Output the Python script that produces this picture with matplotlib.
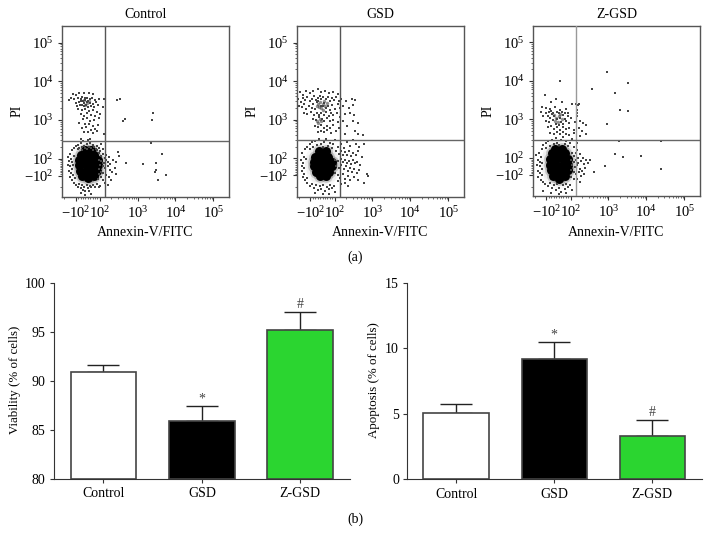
import matplotlib
matplotlib.use('Agg')
import matplotlib.pyplot as plt

plt.rcParams['font.family'] = ['Liberation Serif', 'DejaVu Serif']
plt.rcParams['mathtext.fontset'] = 'custom'
plt.rcParams['mathtext.rm'] = 'Liberation Serif'
plt.rcParams['mathtext.default'] = 'rm'
plt.rcParams['font.size'] = 10

W, H = 711, 545

# flow cytometry events (annexin, PI)
control_core = [(-27, 170), (27, 170), (-55, 127), (0, 127), (55, 127), (-73, 89), (-18, 89), (36, 89), (82, 89),
                (-73, 25), (-18, 25), (36, 25), (82, 25), (-64, -38), (-9, -38), (45, -38), (73, -38),
                (-45, -103), (9, -103), (55, -103), (0, -115)]
control_upper = [(-30, 3300), (-5, 2700), (-25, 2400), (10, 3100)]
control_dots = [(-120, 4800), (-95, 4300), (-70, 5000), (-30, 4900), (10, 5100), (40, 4600), (-135, 3600), (-150, 3300),
                (-110, 3400), (-85, 3700), (-60, 3500), (-45, 3900), (-25, 3600), (-10, 3800), (15, 3400), (35, 3700),
                (60, 3200), (90, 3500), (130, 3400), (-100, 2800), (-75, 2900), (-55, 3100), (-40, 3000), (-30, 2700),
                (-20, 3200), (-5, 2900), (5, 3100), (20, 2800), (45, 2600), (70, 2900), (-90, 2300), (-65, 2400),
                (-50, 2500), (-35, 2300), (-15, 2500), (0, 2200), (25, 2300), (50, 2100), (85, 2400), (120, 2200),
                (-80, 1900), (-45, 1800), (-20, 1900), (10, 1700), (40, 1800), (75, 1600), (-60, 1400), (-30, 1300),
                (-5, 1500), (30, 1350), (60, 1250), (100, 1400), (-40, 1050), (-10, 1100), (20, 950), (55, 1000),
                (90, 1150), (-70, 850), (-25, 800), (10, 780), (45, 700), (85, 750), (-50, 620), (-15, 650), (25, 560),
                (60, 600), (-35, 480), (0, 500), (40, 450), (75, 520), (130, 430),
                (-110, 190), (-95, 210), (-80, 230), (-70, 185), (-60, 250), (-50, 205), (-40, 280), (-30, 215),
                (-20, 190), (-10, 240), (0, 300), (10, 205), (20, 260), (30, 185), (40, 225), (55, 200), (65, 175),
                (80, 215), (95, 190), (110, 240), (125, 175), (-125, 170), (-60, 320), (15, 330), (-85, 175),
                (-45, 170), (-5, 175), (45, 170), (75, 165), (100, 160),
                (-145, 130), (-135, 100), (-150, 70), (-128, 60), (-160, 30), (-140, 10), (-125, -20), (-150, -40),
                (-135, -70), (-120, -90), (-145, -110), (-125, -130), (-110, -150), (-160, 110), (-118, 30),
                (-112, 115), (-105, -115),
                (90, 140), (105, 120), (120, 135), (135, 105), (150, 125), (170, 110), (95, 90), (110, 70), (128, 50),
                (145, 80), (165, 60), (190, 40), (220, 90), (250, -10), (100, 30), (118, 10), (140, -5), (160, 20),
                (185, -30), (210, -60), (95, -20), (108, -50), (125, -70), (150, -90), (175, -110), (200, -130),
                (270, -80), (90, -80), (105, -110), (120, -130), (140, -150), (165, -170), (85, -120), (300, 150),
                (330, 120), (260, 60),
                (-100, -170), (-85, -190), (-70, -160), (-60, -210), (-50, -175), (-40, -230), (-30, -190), (-20, -250),
                (-10, -170), (0, -210), (10, -240), (20, -180), (30, -200), (45, -170), (60, -190), (75, -160),
                (90, -200), (-60, -280), (-20, -320), (30, -290), (100, -180),
                (400, 950), (450, 1050), (2400, 1000), (2500, 1500), (350, 3500), (280, 3200), (2300, 260), (4500, 130),
                (3000, 45), (3000, -30), (2900, -60), (1400, 40), (5500, -95), (3500, -130), (500, 50)]

gsd_core = [(-27, 150), (27, 150), (-64, 110), (-9, 110), (45, 110), (-73, 60), (-18, 60), (36, 60), (82, 60),
            (-73, 5), (-18, 5), (36, 5), (82, 5), (-55, -60), (0, -60), (55, -60), (-18, -105), (27, -105)]
gsd_upper = [(-40, 2600), (-20, 2900), (0, 2500), (20, 2200), (-30, 2100), (10, 3000), (-10, 2000), (35, 2700),
             (-50, 2300), (0, 1800), (-45, 950), (-25, 1050), (-35, 800), (-15, 900)]
gsd_dots = [(-190, 5200), (-160, 4300), (-130, 5600), (-100, 4800), (-75, 5400), (-40, 6200), (-10, 5100), (20, 5600),
            (50, 4900), (85, 5200), (120, 4500), (-210, 3400), (-180, 2900), (-160, 3700), (-140, 3200), (-120, 3900),
            (-100, 3000), (-85, 3500), (-70, 4000), (-55, 3300), (-40, 3700), (-25, 4100), (-10, 3500), (5, 3900),
            (25, 3400), (45, 3800), (60, 3100), (75, 3600), (95, 3200), (110, 3900), (130, 3000), (150, 3400),
            (200, 3100), (280, 3500), (340, 3300), (-200, 2300), (-170, 2100), (-150, 2500), (-130, 1900), (-110, 2300),
            (-90, 2000), (-75, 2500), (-60, 1900), (-45, 2800), (-35, 3000), (-15, 2300), (5, 2200), (15, 2700),
            (30, 2000), (45, 2300), (60, 1800), (80, 2400), (100, 1900), (120, 2500), (140, 2000), (170, 2300),
            (240, 2000), (300, 2400), (-150, 1500), (-120, 1400), (-95, 1600), (-70, 1350), (-50, 1500), (-30, 1300),
            (-10, 1450), (10, 1350), (30, 1550), (50, 1250), (70, 1500), (90, 1300), (115, 1450), (140, 1200),
            (190, 1400), (260, 1500), (320, 1300), (-75, 1050), (-55, 1000), (-30, 1150), (-5, 1050), (15, 950),
            (40, 1100), (65, 900), (90, 1000), (125, 850), (170, 950), (310, 950), (420, 800), (-60, 700), (-35, 650),
            (-10, 750), (10, 600), (35, 700), (60, 620), (85, 720), (130, 600), (210, 700), (-40, 480), (-15, 520),
            (15, 470), (40, 540), (70, 450), (110, 500), (190, 420), (420, 430), (560, 400), (340, 520),
            (-125, 200), (-105, 230), (-90, 260), (-75, 195), (-60, 280), (-45, 215), (-30, 310), (-15, 240), (0, 200),
            (15, 270), (30, 320), (45, 210), (60, 250), (75, 190), (90, 230), (105, 290), (125, 200), (150, 230),
            (180, 185), (210, 270), (250, 210), (300, 290), (360, 240), (450, 200), (600, 230), (-140, 170), (-100, 175),
            (-165, 140), (-150, 110), (-175, 80), (-155, 50), (-170, 15), (-150, -15), (-165, -45), (-150, -80),
            (-160, -110), (-140, -135), (-120, -115), (-130, 95),
            (110, 150), (130, 130), (150, 150), (170, 120), (190, 145), (215, 125), (240, 150), (270, 115), (310, 135),
            (360, 120), (420, 150), (520, 110), (105, 85), (125, 70), (145, 95), (165, 55), (185, 80), (210, 40),
            (235, 70), (265, 30), (300, 75), (340, 45), (400, 60), (480, 20), (110, 10), (130, -15), (150, 20),
            (175, -30), (200, 5), (225, -45), (255, -10), (285, -60), (320, -25), (380, -75), (450, -40), (700, -85),
            (760, -105), (100, -75), (120, -95), (140, -115), (165, -85), (190, -125), (220, -105), (260, -130),
            (330, -110), (420, -130), (600, -160), (120, -140), (150, -170), (185, -160), (230, -185),
            (-120, -160), (-105, -190), (-85, -170), (-70, -215), (-55, -180), (-40, -240), (-25, -190), (-10, -225),
            (5, -175), (20, -260), (35, -195), (50, -230), (65, -175), (80, -210), (95, -185), (-60, -290), (0, -310),
            (50, -300), (105, -270)]

zgsd_core = [(-27, 175), (27, 175), (-55, 130), (0, 130), (55, 130), (-73, 89), (-18, 89), (36, 89), (82, 89),
             (-73, 20), (-18, 20), (36, 20), (82, 20), (-64, -45), (-9, -45), (45, -45), (78, -45),
             (-45, -105), (9, -105), (55, -105), (0, -125)]
zgsd_upper = [(-40, 1300), (-20, 1100), (5, 1250), (25, 1000), (-30, 900), (-5, 850), (15, 1400)]
zgsd_dots = [(930, 17000), (1470, 4800), (3300, 8700), (360, 6100), (9, 9800), (2000, 1800), (3200, 1700), (900, 750),
             (1900, 270), (24000, 270), (1500, 125), (2400, 105), (7000, 115), (25000, -25), (800, 0),
             (-110, 4400), (-60, 2900), (-20, 3400), (30, 2800), (110, 2500), (135, 2450), (155, 2300), (170, 2500),
             (145, 1800), (150, 1500), (-135, 2100), (-100, 2000), (-70, 1900), (-30, 2100), (10, 1800), (60, 1900),
             (-140, 1600), (-105, 1450), (-80, 1550), (-60, 1700), (-45, 1500), (-15, 1600), (5, 1500), (25, 1600),
             (50, 1450), (75, 1500), (-120, 1200), (-90, 1250), (-70, 1100), (-55, 1350), (-35, 1200), (-10, 1000),
             (10, 1100), (35, 1300), (55, 1050), (75, 1200), (100, 1100), (150, 1250), (-100, 900), (-75, 850),
             (-50, 950), (-25, 780), (0, 720), (20, 850), (40, 750), (65, 900), (90, 800), (130, 850), (175, 900),
             (210, 800), (250, 700), (-90, 620), (-60, 680), (-35, 560), (-10, 620), (15, 540), (40, 640), (65, 560),
             (90, 600), (120, 520), (165, 600), (200, 500), (-70, 450), (-40, 420), (-15, 480), (10, 410), (35, 470),
             (60, 430), (85, 400), (120, 440), (180, 380), (260, 420),
             (-120, 210), (-100, 240), (-85, 280), (-70, 200), (-55, 300), (-40, 230), (-25, 330), (-10, 250), (5, 210),
             (20, 290), (35, 340), (50, 230), (65, 270), (80, 200), (95, 250), (110, 310), (125, 190), (150, 240),
             (-135, 170), (-105, 185), (145, 165),
             (-160, 130), (-140, 105), (-170, 70), (-145, 50), (-180, 20), (-150, 0), (-135, -30), (-165, -50),
             (-145, -80), (-130, -100), (-170, -110), (-140, -135), (-120, -155), (-190, 120), (-130, 35),
             (110, 130), (125, 110), (140, 135), (160, 100), (180, 125), (210, 95), (250, 70), (105, 80), (120, 55),
             (140, 75), (160, 40), (185, 60), (220, 25), (280, 40), (110, 15), (130, -10), (150, 20), (175, -25),
             (205, -50), (240, -15), (100, -40), (120, -65), (140, -85), (165, -60), (190, -105), (230, -85),
             (105, -110), (125, -130), (150, -125), (180, -150), (330, 80), (420, -70),
             (-110, -170), (-90, -195), (-70, -165), (-55, -220), (-40, -180), (-25, -250), (-10, -175), (5, -215),
             (20, -270), (35, -185), (50, -230), (65, -175), (80, -205), (95, -180), (-120, -260), (-60, -300),
             (0, -320), (60, -290), (110, -240)]

# gate positions
gate_x = 140
gate_y = 290

panels = ['Control', 'GSD', 'Z-GSD']
flow_ticks = [-100, 100, 1000, 10000, 100000]
flow_tick_labels = ['$-10^{2}$', '$10^{2}$', '$10^{3}$', '$10^{4}$', '$10^{5}$']

# bar values
groups = ['Control', 'GSD', 'Z-GSD']
viability = [90.9, 85.9, 95.15]
viability_top = [91.6, 87.4, 97.0]
apoptosis = [5.08, 9.18, 3.3]
apoptosis_top = [5.74, 10.45, 4.55]
bar_colors = ['white', 'black', '#2bd530']
marks_viability = ['', '*', '#']
marks_apoptosis = ['', '*', '#']


def px_axes(fig, left, top, right, bottom):
    return fig.add_axes([left / W, 1 - bottom / H, (right - left) / W, (bottom - top) / H])


def flow_panel(fig, left, right, top, bottom, title, core, upper, dots, label_x, vcolor):
    ax = px_axes(fig, left, top, right, bottom)
    ax.set_xscale('symlog', linthresh=100, linscale=0.286)
    ax.set_yscale('symlog', linthresh=100, linscale=0.2)
    ax.set_xlim(-231, 260000)
    ax.set_ylim(-352, 268000)

    core_x = [p[0] for p in core]
    core_y = [p[1] for p in core]
    # soft edge of the dense population, then the solid part
    ax.scatter(core_x, core_y, s=190, c='#666666', alpha=0.05, linewidths=0, zorder=2)
    ax.scatter(core_x, core_y, s=85, c='#333333', alpha=0.2, linewidths=0, zorder=2)
    ax.scatter(core_x, core_y, s=42, c='black', linewidths=0, zorder=2)
    ax.scatter([p[0] for p in upper], [p[1] for p in upper], s=6, c='#333333', alpha=0.55, linewidths=0, zorder=2)
    ax.scatter([p[0] for p in dots], [p[1] for p in dots], s=0.7, c='#444444', marker='s', linewidths=0, zorder=2)

    ax.axvline(gate_x, color=vcolor, lw=1, zorder=3)
    ax.axhline(gate_y, color='#666666', lw=1, zorder=3)

    minor = [k * 10 ** d for d in (2, 3, 4) for k in range(2, 10)] + [-80, -60, -40, -20, 0, 20, 40, 60, 80, -200]
    ax.set_xticks(flow_ticks)
    ax.set_yticks(flow_ticks)
    ax.set_xticks(minor, minor=True)
    ax.set_yticks(minor, minor=True)
    ax.set_xticklabels(flow_tick_labels)
    ax.set_yticklabels(flow_tick_labels)
    ax.tick_params(which='major', length=3, width=0.8, pad=3, color='#333333', labelsize=10.5)
    ax.tick_params(which='minor', length=1.5, width=0.5, color='#333333')
    for s in ax.spines.values():
        s.set_color('#555555')
        s.set_linewidth(1)

    mid = (left + right) / 2
    fig.text(mid / W, 1 - 14 / H, title, ha='center', va='center', fontsize=10)
    fig.text(mid / W, 1 - 232 / H, 'Annexin-V/FITC', ha='center', va='center', fontsize=10)
    fig.text(label_x / W, 1 - 111 / H, 'PI', ha='center', va='center', rotation=90, fontsize=10)


def bar_panel(fig, left, right, top, bottom, values, tops, ymin, ymax, yticks, ylabel, label_x, marks, xlim):
    ax = px_axes(fig, left, top, right, bottom)
    xs = range(len(groups))
    ax.bar(xs, [v - ymin for v in values], bottom=ymin, width=0.667, color=bar_colors, edgecolor='#444444',
           linewidth=1.2, zorder=3)
    ax.errorbar(xs, values, yerr=[[0] * 3, [t - v for t, v in zip(tops, values)]], fmt='none', ecolor='#222222',
                elinewidth=1, capsize=11.5, capthick=1, zorder=2)
    for x, t, m in zip(xs, tops, marks):
        if m:
            ax.text(x, t + (ymax - ymin) * 0.004, m, ha='center', va='bottom', fontsize=10, color='#444444')
    ax.set_xlim(*xlim)
    ax.set_ylim(ymin, ymax)
    ax.set_yticks(yticks)
    ax.set_xticks(list(xs))
    ax.set_xticklabels(groups)
    ax.spines['top'].set_visible(False)
    ax.spines['right'].set_visible(False)
    ax.spines['left'].set_color('#333333')
    ax.spines['bottom'].set_color('#333333')
    ax.tick_params(length=3, width=0.8, color='#333333', labelsize=10, pad=3)
    fig.text(label_x / W, 1 - 380 / H, ylabel, ha='center', va='center', rotation=90, fontsize=9.3)


fig = plt.figure(figsize=(W / 100, H / 100), dpi=100)

flow_panel(fig, 62, 229, 26, 197, panels[0], control_core, control_upper, control_dots, 17, '#555555')
flow_panel(fig, 296.7, 464, 26, 196.5, panels[1], gsd_core, gsd_upper, gsd_dots, 252, '#555555')
flow_panel(fig, 532.7, 700, 26, 196, panels[2], zgsd_core, zgsd_upper, zgsd_dots, 488, '#999999')

bar_panel(fig, 54, 350, 282.7, 479, viability, viability_top, 80, 100, [80, 85, 90, 95, 100],
          'Viability (% of cells)', 15, marks_viability, (-0.503, 2.505))
bar_panel(fig, 407.3, 702.3, 282.7, 479.3, apoptosis, apoptosis_top, 0, 15, [0, 5, 10, 15],
          'Apoptosis (% of cells)', 374, marks_apoptosis, (-0.498, 2.51))

fig.text(355 / W, 1 - 257 / H, '(a)', ha='center', va='center', fontsize=10)
fig.text(355 / W, 1 - 519 / H, '(b)', ha='center', va='center', fontsize=10)

fig.savefig('out.png', dpi=100)
plt.close()
